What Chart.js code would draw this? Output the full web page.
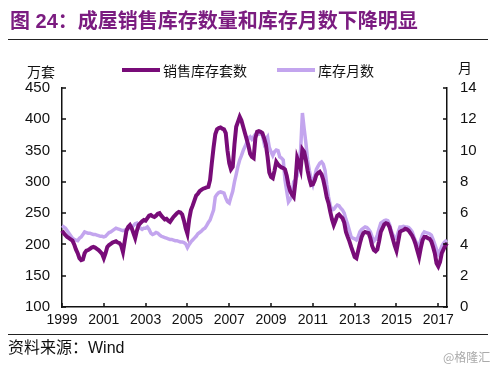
<!DOCTYPE html>
<html><head><meta charset="utf-8">
<script src="https://cdn.jsdelivr.net/npm/chart.js@4.4.0/dist/chart.umd.min.js"></script>
<style>
html,body{margin:0;padding:0;background:#fff;}
#wrap{position:relative;width:500px;height:369px;overflow:hidden;background:#fff;}
#c{position:absolute;left:0;top:0;}
.t{position:absolute;white-space:nowrap;}
</style></head><body>
<div id="wrap">
<canvas id="c" width="500" height="369"></canvas>
<div class="t" style="left:10px;top:8px;font:bold 20px 'Liberation Sans','Noto Sans CJK SC';color:#7b1c80;line-height:26px;">图 24：成屋销售库存数量和库存月数下降明显</div>
<div style="position:absolute;left:8px;top:39px;width:480px;height:1px;background:#222"></div>
<div class="t" style="left:27px;top:62px;font:14px 'Noto Sans CJK SC';color:#111;line-height:18px;">万套</div>
<div class="t" style="left:458px;top:58px;font:14px 'Noto Sans CJK SC';color:#111;line-height:18px;">月</div>
<div style="position:absolute;left:122px;top:68px;width:38px;height:4px;background:#780c78"></div>
<div class="t" style="left:163px;top:61px;font:14px 'Noto Sans CJK SC';color:#111;line-height:18px;">销售库存套数</div>
<div style="position:absolute;left:277px;top:68px;width:38px;height:3.5px;background:#c3a5ee"></div>
<div class="t" style="left:318px;top:61px;font:14px 'Noto Sans CJK SC';color:#111;line-height:18px;">库存月数</div>
<div style="position:absolute;left:8px;top:334px;width:480px;height:1px;background:#222"></div>
<div class="t" style="left:8px;top:338px;font:16px 'Liberation Sans','Noto Sans CJK SC';color:#111;line-height:20px;">资料来源：Wind</div>
<div class="t" style="left:443px;top:350px;font:12px 'Noto Sans CJK SC';color:#aaa;line-height:14px;">@格隆汇</div>
</div>
<script>
const years = ['1999','2000','2001','2002','2003','2004','2005','2006','2007','2008','2009','2010','2011','2012','2013','2014','2015','2016','2017'];
const monthNames = ['01','02','03','04','05','06','07','08','09','10','11','12'];
const tickYears = ['1999','2001','2003','2005','2007','2009','2011','2013','2015','2017'];

// 销售库存套数 (万套), monthly 1999-01 .. 2017-06
const salesInventory = [
  222,218,215,212,210,208,206,200,192,186,178,175,
  176,186,190,191,193,195,196,195,193,191,188,185,
  178,186,196,199,201,203,204,205,203,202,198,188,
  205,222,228,231,226,218,210,222,231,234,237,239,
  238,242,246,247,245,244,246,249,250,246,243,240,
  241,238,236,240,244,247,250,252,251,248,238,226,
  217,240,255,262,270,278,281,285,287,289,290,291,
  292,303,330,355,376,384,386,387,385,384,378,350,
  330,320,324,360,388,396,404,398,388,378,368,358,
  345,340,338,370,380,381,380,378,370,360,340,315,
  308,306,318,332,328,325,323,322,320,310,295,285,
  280,276,300,338,330,320,352,348,335,318,305,295,
  296,302,311,314,316,312,303,290,275,266,252,240,
  231,238,246,248,245,242,235,220,212,205,196,188,
  180,178,190,202,212,218,220,219,218,210,198,191,
  189,192,205,220,226,232,234,233,228,218,208,198,
  190,205,220,222,223,225,224,222,218,214,208,200,
  190,180,195,207,212,212,210,209,205,196,186,170,
  165,172,186,192,198,202
];

// 库存月数 (月)
const monthsSupply = [
  5.2,5.12,5.04,4.88,4.72,4.56,4.4,4.32,4.28,4.24,4.4,4.48,
  4.64,4.8,4.76,4.72,4.72,4.68,4.64,4.64,4.6,4.56,4.52,4.52,
  4.48,4.52,4.64,4.76,4.8,4.88,4.96,5.04,5.0,4.96,4.92,4.88,
  4.92,4.96,5.0,5.04,5.12,5.2,5.32,5.36,5.2,5.04,4.96,5.04,
  5.04,5.12,4.96,4.72,4.64,4.68,4.76,4.72,4.6,4.52,4.48,4.44,
  4.4,4.36,4.32,4.32,4.28,4.24,4.24,4.2,4.16,4.16,4.12,4.04,
  3.8,4.0,4.16,4.28,4.4,4.52,4.68,4.76,4.84,4.96,5.04,5.2,
  5.4,5.56,5.88,6.2,7.04,7.2,7.32,7.36,7.32,7.28,6.96,6.72,
  6.64,7.04,7.4,8.0,8.48,9.0,9.4,9.68,10.0,10.24,10.48,10.8,
  10.88,10.72,10.88,11.04,11.12,11.04,11.08,11.0,10.48,10.72,10.88,10.2,
  9.92,9.68,9.92,10.04,10.0,9.6,9.52,9.4,8.12,7.4,6.72,6.88,
  7.12,8.0,8.12,8.4,9.2,10.08,12.4,11.4,10.48,9.4,8.72,8.2,
  7.84,8.32,8.8,9.0,9.2,9.28,9.12,8.72,7.8,7.04,6.48,6.2,
  6.24,6.4,6.52,6.48,6.32,6.2,6.0,5.6,5.28,4.88,4.48,4.4,
  4.36,4.28,4.48,4.8,4.96,5.04,5.12,5.08,4.96,4.8,4.48,4.2,
  4.32,4.6,5.0,5.36,5.44,5.52,5.56,5.52,5.28,4.88,4.6,4.4,
  4.4,4.8,5.12,5.12,5.16,5.12,5.12,5.08,4.96,4.8,4.48,4.2,
  4.0,3.92,4.32,4.64,4.8,4.76,4.72,4.68,4.6,4.32,4.0,3.68,
  3.4,3.6,3.88,4.08,4.2,4.28
];

const labels = [];
for (const y of years) for (const m of monthNames) if (labels.length < salesInventory.length) labels.push(y + '-' + m);

const inwardTicks = {
  id: 'inwardTicks',
  afterDraw(chart) {
    const ctx = chart.ctx, a = chart.chartArea;
    ctx.save();
    ctx.strokeStyle = '#111';
    ctx.lineWidth = 1.5;
    ctx.beginPath();
    const y = chart.scales.y;
    y.ticks.forEach((t, i) => { const p = Math.round(y.getPixelForTick(i)); ctx.moveTo(a.left, p); ctx.lineTo(a.left + 4, p); });
    const y1 = chart.scales.y1;
    y1.ticks.forEach((t, i) => { const p = Math.round(y1.getPixelForTick(i)); ctx.moveTo(a.right, p); ctx.lineTo(a.right - 4, p); });
    const x = chart.scales.x;
    x.ticks.forEach((t, i) => { if (t.label == null || t.label === '') return; const p = Math.round(x.getPixelForTick(i)); ctx.moveTo(p, a.bottom); ctx.lineTo(p, a.bottom - 4); });
    ctx.stroke();
    ctx.restore();
  }
};

const tickFont = { family: "'Liberation Sans', Arial, sans-serif", size: 15 };

new Chart(document.getElementById('c'), {
  type: 'line',
  data: {
    labels: labels,
    datasets: [
      { label: '销售库存套数', data: salesInventory, yAxisID: 'y', borderColor: '#780c78', borderWidth: 4, pointRadius: 0, tension: 0, fill: false },
      { label: '库存月数', data: monthsSupply, yAxisID: 'y1', borderColor: '#c3a5ee', borderWidth: 3.5, pointRadius: 0, tension: 0, fill: false }
    ]
  },
  options: {
    responsive: false,
    animation: false,
    devicePixelRatio: 1,
    layout: { padding: { top: 88, left: 0, right: 0, bottom: 0 } },
    plugins: { legend: { display: false }, title: { display: false }, tooltip: { enabled: false } },
    scales: {
      x: {
        type: 'category', offset: false,
        grid: { display: true, drawOnChartArea: false, drawTicks: false },
        border: { display: true, color: '#111', width: 1.5 },
        ticks: {
          autoSkip: false, maxRotation: 0, minRotation: 0, padding: 5, color: '#111',
          font: { family: "'Liberation Sans', Arial, sans-serif", size: 14 },
          callback: function (v, i) { const l = labels[i]; return (l.endsWith('-01') && tickYears.includes(l.slice(0, 4))) ? l.slice(0, 4) : null; }
        },
        afterFit(s) { s.height = 62; }
      },
      y: {
        position: 'left', min: 100, max: 450,
        grid: { display: true, drawOnChartArea: false, drawTicks: false },
        border: { display: true, color: '#111', width: 1.5 },
        ticks: { stepSize: 50, padding: 12, color: '#111', font: tickFont },
        afterFit(s) { s.width = 62; }
      },
      y1: {
        position: 'right', min: 0, max: 14,
        grid: { display: true, drawOnChartArea: false, drawTicks: false },
        border: { display: true, color: '#111', width: 1.5 },
        ticks: { stepSize: 2, padding: 13, color: '#111', font: tickFont },
        afterFit(s) { s.width = 53; }
      }
    }
  },
  plugins: [inwardTicks]
});
</script>
</body></html>
